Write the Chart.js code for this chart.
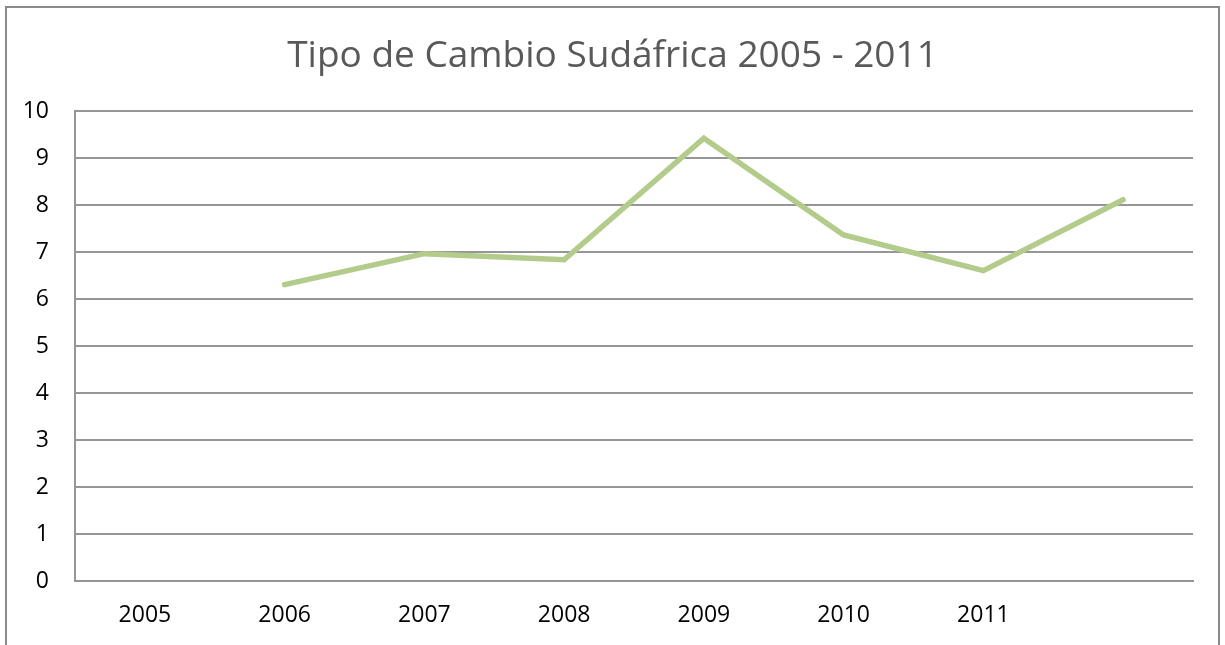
<!DOCTYPE html>
<html>
<head>
<meta charset="utf-8">
<script src="https://cdn.jsdelivr.net/npm/chart.js@4"></script>
<style>
  html, body { margin: 0; padding: 0; background: #fff; overflow: hidden; }
  #frame {
    position: absolute; left: 5px; top: 6px; width: 1215px; height: 700px;
    border: 2px solid #8a8a8a; box-sizing: border-box;
  }
  #wrap { position: absolute; left: 0; top: 0; width: 1225px; height: 645px; }
</style>
</head>
<body>
<div id="frame"></div>
<div id="wrap"><canvas id="chart" width="1225" height="645"></canvas></div>
<script>
// ====================================
// Data
// ====================================
var years = ['2005', '2006', '2007', '2008', '2009', '2010', '2011', ''];
var tipoCambio = [null, 6.31, 6.97, 6.84, 9.43, 7.37, 6.61, 8.12];
var yTicks = [0, 1, 2, 3, 4, 5, 6, 7, 8, 9, 10];

var gridColor = '#969696';
var font = '"Open Sans", "Liberation Sans", sans-serif';

var ctx = document.getElementById('chart').getContext('2d');
new Chart(ctx, {
    type: 'line',
    data: {
        labels: years,
        datasets: [{
            label: 'Tipo de Cambio',
            data: tipoCambio,
            borderColor: '#b3cb8b',
            borderWidth: 5.5,
            borderCapStyle: 'round',
            borderJoinStyle: 'miter',
            pointRadius: 0,
            tension: 0,
            fill: false
        }]
    },
    options: {
        responsive: false,
        animation: false,
        layout: { padding: 0 },
        plugins: {
            legend: { display: false },
            tooltip: { enabled: false },
            title: {
                display: true,
                text: 'Tipo de Cambio Sudáfrica 2005 - 2011',
                color: '#595959',
                font: { family: font, size: 37, weight: 'normal', lineHeight: 1.2 },
                padding: { top: 34, bottom: 33 }
            }
        },
        scales: {
            x: {
                offset: true,
                grid: { display: false, offset: true, drawTicks: false },
                border: { display: true, color: gridColor, width: 2 },
                ticks: {
                    color: '#000',
                    padding: 21,
                    maxRotation: 0,
                    autoSkip: false,
                    font: { family: font, size: 23, lineHeight: 1.2 }
                },
                afterFit: function(scale) { scale.height = 64; }
            },
            y: {
                min: 0,
                max: 10,
                afterBuildTicks: function(scale) {
                    scale.ticks = yTicks.map(function(v) { return { value: v }; });
                },
                grid: { color: gridColor, lineWidth: 2, drawTicks: false },
                border: { display: true, color: gridColor, width: 2 },
                ticks: {
                    color: '#000',
                    padding: 26,
                    font: { family: font, size: 23, lineHeight: 1.2 }
                },
                afterFit: function(scale) { scale.width = 75; }
            },
            // empty right-hand gutter so the title stays centred on the whole frame
            yRight: {
                position: 'right',
                display: true,
                grid: { display: false, drawTicks: false },
                border: { display: false },
                ticks: { display: false },
                afterFit: function(scale) { scale.width = 32; }
            }
        }
    }
});
</script>
</body>
</html>
